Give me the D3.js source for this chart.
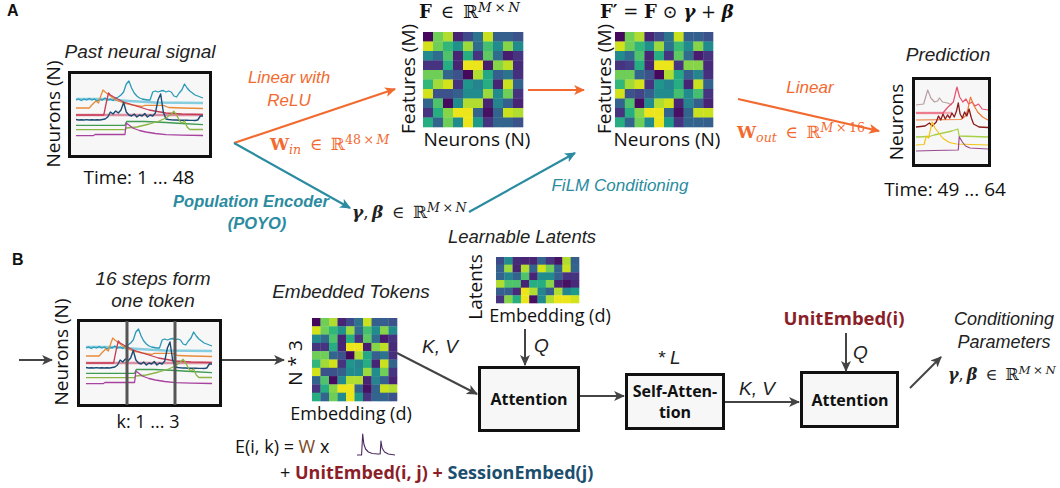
<!DOCTYPE html>
<html><head><meta charset="utf-8">
<script src="https://cdn.jsdelivr.net/npm/d3@7"></script>
<style>body{margin:0;background:#fff}svg{display:block}</style>
</head><body>
<svg id="c" width="1060" height="488"></svg>
<script>
// ---------- DATA ----------
const heatF = [
 [0.02,0.78,0.88,0.10,0.22,0.38,0.92,0.30,0.30,0.25],
 [0.93,0.78,0.66,0.50,0.85,0.35,0.70,0.48,0.82,0.48],
 [0.48,0.35,0.72,0.10,0.62,0.15,0.75,0.35,0.08,0.15],
 [0.15,0.15,0.62,0.10,0.97,0.97,0.08,0.82,0.90,0.12],
 [0.78,0.78,0.32,0.25,0.02,0.88,0.60,0.30,0.38,0.14],
 [0.66,0.86,0.93,0.15,0.52,0.45,0.62,0.10,0.92,0.32],
 [0.93,0.25,0.25,0.30,0.48,0.48,0.85,0.48,0.78,0.15],
 [0.32,0.72,0.03,0.48,0.88,0.88,0.10,0.45,0.30,0.10],
 [0.15,0.62,0.82,0.97,0.97,0.32,0.04,0.32,0.92,0.88],
 [0.62,0.32,0.78,0.48,0.97,0.55,0.15,0.32,0.32,0.25]
];
const heatFprime = [
 [0.02,0.78,0.88,0.10,0.22,0.38,0.92,0.30,0.30,0.25],
 [0.93,0.78,0.66,0.50,0.85,0.38,0.68,0.48,0.82,0.48],
 [0.48,0.35,0.72,0.10,0.62,0.15,0.75,0.35,0.08,0.15],
 [0.15,0.18,0.62,0.10,0.97,0.97,0.15,0.82,0.82,0.12],
 [0.78,0.78,0.32,0.25,0.02,0.88,0.60,0.30,0.45,0.14],
 [0.66,0.86,0.93,0.15,0.52,0.45,0.62,0.10,0.92,0.32],
 [0.93,0.25,0.20,0.30,0.48,0.48,0.70,0.48,0.70,0.15],
 [0.32,0.72,0.03,0.48,0.88,0.93,0.10,0.45,0.30,0.10],
 [0.15,0.62,0.82,0.97,0.97,0.32,0.04,0.32,0.92,0.92],
 [0.62,0.32,0.78,0.48,0.97,0.55,0.15,0.32,0.32,0.30]
];
const heatLatents = [
 [0.22,0.48,0.12,0.10,0.10,0.32,0.15,0.05,0.88,0.30],
 [0.30,0.85,0.10,0.88,0.32,0.93,0.78,0.32,0.92,0.32],
 [0.32,0.45,0.32,0.72,0.10,0.48,0.48,0.30,0.15,0.15],
 [0.88,0.72,0.72,0.10,0.62,0.62,0.82,0.10,0.04,0.12],
 [0.30,0.30,0.12,0.97,0.88,0.45,0.30,0.88,0.45,0.55],
 [0.15,0.82,0.62,0.97,0.04,0.48,0.88,0.97,0.97,0.93]
];

// past neural signal traces (time step 0..48, amplitude)
const sigLightBlue = [[0,51],[10,51],[20,49],[30,47.5],[48,47]];
const sigPink = [[0,35],[48,35]];
const sigCyan = [50,51,49.5,51,50,51.5,50,51,49,50.5,50,52,50,51,49.5,52,53,55,58,66,69,62,57,54,52,51,50.5,50,50,58,59,58,59,59.5,58,59,58,54,53,57,60,66,62,59,57,55,54,53,52];
const sigOrange = [[0,42],[5,42],[6,45],[7.5,49],[8.5,47],[9.5,55],[10.2,60],[11,58],[12.5,55],[15,50],[18,47],[21.5,45],[25,43.5],[26,44.7],[33,44.7],[35,42.5],[40,42],[48,41.5]];
const sigRed = [[0,35],[10.5,35],[11.5,48],[12.3,57],[13,55],[15,52],[18,48],[21.5,45],[27.6,40],[34,37],[40,36],[48,35.5]];
const sigNavy = [30.5,30,30.3,30,30.4,30,30.2,30,30.3,30,30.5,31,33,38,36,39,37,40,47.5,38,35,34,36,33,35,34,36.5,33,35,34,37,50,56,38,31,30.5,30.2,30,30,29.8,29.8,29.7,29.7,29.6,29.6,29.5,30,34,34];
const sigGreen = [[0,24.7],[18.5,24.7],[19.2,28.7],[26,28.5],[34,27.5],[40,26.5],[48,25.3]];
const sigOlive = [[0,20.3],[18.5,20.3],[19,22],[23,23],[27.7,26],[31,28.5],[34,32],[36,36],[37,38.7],[38,35],[39.2,29],[40,27],[41,29],[42,23],[43,20.5],[48,20.5]];
const sigMagenta = [[0,14.3],[6.5,14.3],[7.2,15.5],[18.5,15.5],[19,27],[20,25],[21.4,22],[24,19.5],[26.4,18],[30,16.5],[34,15.3],[40,14.8],[48,14.5]];
const pastSignals = [sigLightBlue, sigPink, sigCyan, sigOrange, sigRed, sigNavy, sigGreen, sigOlive, sigMagenta];
const pastColors = ["#86cde0","#dc8ea2","#2b9ab8","#e98b3c","#c63c55","#1b4c74","#3f9a52","#8cb543","#a8439f"];
const pastWidths = [2.6,2.6,1.3,1.3,1.3,1.4,1.3,1.3,1.3];

// predicted traces (time step 0..16)
const predPinkFlat = [[0,47],[8,47]];
const predTaupe = [[0,55],[1.7,56],[2.6,70],[3.3,62],[4.1,58],[4.8,59],[5.2,62],[5.9,58],[7,57],[8,55]];
const predPink = [[0,47],[6,47],[6.9,52],[8.3,58],[9.1,73],[9.7,63],[10.4,58],[11.1,61],[11.7,56],[12.5,58],[13.1,54],[13.9,56],[14.7,51],[16,50]];
const predOrange = [[0,40],[10,40.5],[11,44],[11.5,50],[12.1,63],[12.8,55],[13.7,48],[14.8,43],[16,40]];
const predDarkRed = [[0,33],[2,34],[3,37],[3.6,34],[4.5,38],[5,44],[5.5,40],[6,46],[6.5,41],[7,45],[7.5,42],[8,47],[8.5,43],[9,49],[9.4,57],[9.8,46],[10.3,42],[10.8,48],[11.3,44],[11.8,51],[12.3,42],[12.8,36],[14,33],[16,32.5]];
const predLime = [[0,23],[3,23.5],[4,25],[6,27],[8,29],[9.3,31],[9.6,24],[16,23]];
const predGold = [[0,15],[1.8,15.5],[2.3,24],[2.8,22],[3.6,38],[4.2,32],[4.9,28],[5.9,22],[7.4,17.5],[9,16],[16,15]];
const predPurple = [[0,9],[4,9.5],[9.4,10],[9.6,23.3],[10.3,18],[11,14],[12,12],[14,11.5],[16,11]];
const predSignals = [predPinkFlat, predTaupe, predPink, predOrange, predDarkRed, predLime, predGold, predPurple];
const predColors = ["#f4a9b0","#b99ea2","#e8506e","#f07a35","#8b1a1a","#a8d048","#f2c418","#9a4a8e"];
const predWidths = [2.4,1.2,1.2,1.2,1.3,1.3,1.2,1.2];

// single-neuron glyph in the embedding formula
const glyphTrace = [[0,1],[2.4,1],[3,22],[3.6,12],[4.5,7],[6,4],[8,2.5],[11,2],[12.2,2],[12.6,15],[13.2,8],[14.5,4],[16.5,2],[20,1]];

// ---------- DRAWING ----------
const svg = d3.select("#c");
const SANS = "'Open Sans', 'Noto Sans', sans-serif";
const ARIAL = "'Liberation Sans', Arial, sans-serif";
const SERIF = "'DejaVu Serif', 'Liberation Serif', serif";
const ORANGE = "#f26a2f", TEAL = "#2b8ba0", GRAY = "#444", DRED = "#8b1e28", DBLUE = "#1c4e6e", BROWN = "#7b4a1e";
const EN = "\u2002", TH = "\u2009";

svg.append("rect").attr("width",1060).attr("height",488).attr("fill","#fff");

const defs = svg.append("defs");
function marker(id, color){
  defs.append("marker").attr("id",id).attr("viewBox","0 0 10 10").attr("refX",9).attr("refY",5)
    .attr("markerWidth",11).attr("markerHeight",11).attr("markerUnits","userSpaceOnUse").attr("orient","auto")
    .append("path").attr("d","M0,0.5 L10,5 L0,9.5 L2.5,5 Z").attr("fill",color);
}
marker("mO",ORANGE); marker("mT",TEAL); marker("mG",GRAY);
function arrow(x1,y1,x2,y2,color,m,w){
  svg.append("line").attr("x1",x1).attr("y1",y1).attr("x2",x2).attr("y2",y2)
    .attr("stroke",color).attr("stroke-width",w||2).attr("marker-end",`url(#${m})`);
}
function txt(x,y,s,o){
  o=o||{};
  const t=svg.append("text").attr("x",x).attr("y",y).text(s)
    .attr("font-family",o.f||SANS).attr("font-size",o.s||18).attr("fill",o.c||"#111")
    .attr("text-anchor",o.a||"middle");
  if(o.i) t.attr("font-style","italic");
  if(o.b) t.attr("font-weight","bold");
  return t;
}
function vtxt(x,y,s,o){
  o=o||{};
  return svg.append("text").attr("transform",`translate(${x},${y}) rotate(-90)`).text(s)
    .attr("font-family",o.f||SANS).attr("font-size",o.s||18).attr("fill",o.c||"#111")
    .attr("text-anchor","middle");
}
function math(x,y,parts,color,size){
  const t=svg.append("text").attr("x",x).attr("y",y).attr("font-family",SERIF)
    .attr("font-size",size).attr("fill",color);
  let off=0;
  parts.forEach(p=>{
    const target=p.sup?-size*0.36:(p.sub?size*0.25:0);
    const ts=t.append("tspan").text(p.t).attr("dy",target-off);
    off=target;
    if(p.sup||p.sub) ts.attr("font-size",size*0.74);
    if(p.b) ts.attr("font-weight","bold");
    if(p.i) ts.attr("font-style","italic");
  });
  return t;
}
function heat(x,y,w,h,data){
  const rows=data.length, cols=data[0].length;
  const xs=d3.scaleBand().domain(d3.range(cols)).range([x,x+w]);
  const ys=d3.scaleBand().domain(d3.range(rows)).range([y,y+h]);
  const g=svg.append("g");
  data.forEach((row,r)=>row.forEach((v,c)=>{
    g.append("rect").attr("x",xs(c)).attr("y",ys(r)).attr("width",xs.bandwidth()+0.3).attr("height",ys.bandwidth()+0.3)
      .attr("fill",d3.interpolateViridis(v));
  }));
}
const toPairs = d => d.map((v,i)=>Array.isArray(v)?v:[i,v]);
function traces(list,colors,widths,xs,ys){
  const line=d3.line().x(d=>xs(d[0])).y(d=>ys(d[1]));
  const g=svg.append("g");
  list.forEach((d,k)=>{
    g.append("path").attr("d",line(toPairs(d))).attr("fill","none")
      .attr("stroke",colors[k]).attr("stroke-width",widths[k]).attr("stroke-linejoin","round");
  });
}
function box(x,y,w,h,fill,sw){
  svg.append("rect").attr("x",x).attr("y",y).attr("width",w).attr("height",h)
    .attr("fill",fill||"#f7f7f7").attr("stroke","#111").attr("stroke-width",sw||3);
}
const gammaBeta = [{t:"γ",b:1,i:1},{t:","+TH},{t:"β",b:1,i:1},{t:EN+"∈"+EN},{t:"ℝ"},{t:"M",sup:1,i:1},{t:TH+"×"+TH,sup:1},{t:"N",sup:1,i:1}];

// ===== Panel A =====
txt(7,16,"A",{a:"start",b:1,s:16,f:ARIAL});
txt(140,58,"Past neural signal",{i:1,f:ARIAL,c:"#222",s:19});
box(69.5,72.5,141,84);
traces(pastSignals,pastColors,pastWidths,
  d3.scaleLinear().domain([0,48]).range([76,203]),
  d3.scaleLinear().domain([0,80]).range([150,70]));
vtxt(60,114,"Neurons (N)",{s:19});
txt(139,184,"Time: 1 ... 48",{s:19});

// fork arrows
arrow(234,143,395,89,ORANGE,"mO",2.2);
arrow(234,143,350,208,TEAL,"mT",2.2);
txt(289,83,"Linear with",{i:1,f:ARIAL,c:ORANGE,s:17});
txt(289,106,"ReLU",{i:1,f:ARIAL,c:ORANGE,s:17});
math(270,150,[{t:"W",b:1},{t:"in",i:1,sub:1},{t:EN+"∈"+EN},{t:"ℝ"},{t:"48"+TH+"×"+TH,sup:1},{t:"M",sup:1,i:1}],ORANGE,17);
txt(251,207,"Population Encoder",{i:1,b:1,f:ARIAL,c:TEAL,s:16.5});
txt(257,229,"(POYO)",{i:1,b:1,f:ARIAL,c:TEAL,s:16.5});
math(352,218,gammaBeta,"#222",17);
arrow(469,212,575,153,TEAL,"mT",2.2);
txt(620,191,"FiLM Conditioning",{i:1,f:ARIAL,c:TEAL,s:17});

// heatmap F
math(419,18,[{t:"F",b:1},{t:EN+"∈"+EN},{t:"ℝ"},{t:"M",sup:1,i:1},{t:TH+"×"+TH,sup:1},{t:"N",sup:1,i:1}],"#111",18);
heat(423,32,100,95,heatF);
vtxt(415,79,"Features (M)",{s:19});
txt(477,146,"Neurons (N)",{s:19});
arrow(528,90,584,90,ORANGE,"mO",2.2);

// heatmap F'
math(600,18,[{t:"F′",b:1},{t:" = "},{t:"F",b:1},{t:" ⊙ "},{t:"γ",b:1,i:1},{t:" + "},{t:"β",b:1,i:1}],"#111",18);
heat(615,32,98,95,heatFprime);
vtxt(611,79,"Features (M)",{s:19});
txt(667,146,"Neurons (N)",{s:19});

// linear out
txt(810,93,"Linear",{i:1,f:ARIAL,c:ORANGE,s:17});
arrow(738,99,879,131,ORANGE,"mO",2.2);
math(737,138,[{t:"W",b:1},{t:"out",i:1,sub:1},{t:EN+"∈"+EN},{t:"ℝ"},{t:"M",sup:1,i:1},{t:TH+"×"+TH+"16",sup:1}],ORANGE,17);

// prediction
txt(948,61,"Prediction",{i:1,f:ARIAL,c:"#222",s:19});
box(913.5,78.5,76,87);
traces(predSignals,predColors,predWidths,
  d3.scaleLinear().domain([0,16]).range([916,988]),
  d3.scaleLinear().domain([0,80]).range([160,80]));
vtxt(903,122,"Neurons",{s:19});
txt(945,196,"Time: 49 ... 64",{s:19});

// ===== Panel B =====
txt(12,265,"B",{a:"start",b:1,s:16,f:ARIAL});
txt(153,285,"16 steps form",{i:1,f:ARIAL,c:"#222",s:19});
txt(153,307,"one token",{i:1,f:ARIAL,c:"#222",s:19});
arrow(19,360,52,360,GRAY,"mG",2);
box(78.5,320.5,142,85);
traces(pastSignals,pastColors,pastWidths,
  d3.scaleLinear().domain([0,48]).range([86,212]),
  d3.scaleLinear().domain([0,80]).range([398,318]));
[127,175].forEach(x=>svg.append("line").attr("x1",x).attr("x2",x).attr("y1",321).attr("y2",405)
  .attr("stroke","#555").attr("stroke-width",3));
vtxt(68,352,"Neurons (N)",{s:19});
txt(148,428,"k: 1 ... 3",{s:18});
arrow(222,360,284,360,GRAY,"mG",2);

txt(351,298,"Embedded Tokens",{i:1,f:ARIAL,c:"#222",s:19});
heat(312,318,85,83,heatF);
vtxt(302,363,"N * 3",{s:19});
txt(351,420,"Embedding (d)",{s:18});
txt(440,353,"K, V",{i:1,f:ARIAL,c:"#222",s:19});
arrow(397,353,477,394,GRAY,"mG",2);

txt(522,243,"Learnable Latents",{i:1,f:ARIAL,c:"#222",s:18.5});
heat(496,257,83,46,heatLatents);
vtxt(482,287,"Latents",{s:19});
txt(550,322,"Embedding (d)",{s:18});
arrow(525,329,525,365,GRAY,"mG",2);
txt(534,352,"Q",{i:1,f:ARIAL,a:"start",c:"#222",s:19});

box(479.5,367.5,99,63);
txt(529,405,"Attention",{b:1,s:16});
arrow(580,396,624,396,GRAY,"mG",2);

box(626.5,374.5,97,54);
txt(675,397,"Self-Atten-",{b:1,s:16});
txt(675,418,"tion",{b:1,s:16});
txt(669,364,"* L",{i:1,f:ARIAL,c:"#222",s:19});
arrow(725,402,799,402,GRAY,"mG",2);
txt(757,395,"K, V",{i:1,f:ARIAL,c:"#222",s:19});

box(801.5,372.5,96,54);
txt(850,406,"Attention",{b:1,s:16});
txt(844,325,"UnitEmbed(i)",{b:1,c:DRED,s:18.5});
arrow(846,333,846,371,GRAY,"mG",2);
txt(853,359,"Q",{i:1,f:ARIAL,a:"start",c:"#222",s:19});
arrow(910,388,941,357,GRAY,"mG",2);
txt(1004,325,"Conditioning",{i:1,f:ARIAL,c:"#222",s:18});
txt(1004,348,"Parameters",{i:1,f:ARIAL,c:"#222",s:18});
math(948,380,gammaBeta,"#222",16);

// formula
const f1=txt(235,453,"",{a:"start",s:18});
f1.append("tspan").text("E(i, k) = ");
f1.append("tspan").text("W").attr("fill",BROWN);
f1.append("tspan").text(" x");
traces([glyphTrace],["#4a2a5e"],[1.1],
  d3.scaleLinear().domain([0,20]).range([357,395]),
  d3.scaleLinear().domain([0,25]).range([456,431]));
const f2=txt(280,479,"",{a:"start",s:18});
f2.append("tspan").text("+  ").attr("fill","#111");
f2.append("tspan").text("UnitEmbed(i, j) + ").attr("fill",DRED).attr("font-weight","bold");
f2.append("tspan").text("SessionEmbed(j)").attr("fill",DBLUE).attr("font-weight","bold");
</script>
</body></html>
